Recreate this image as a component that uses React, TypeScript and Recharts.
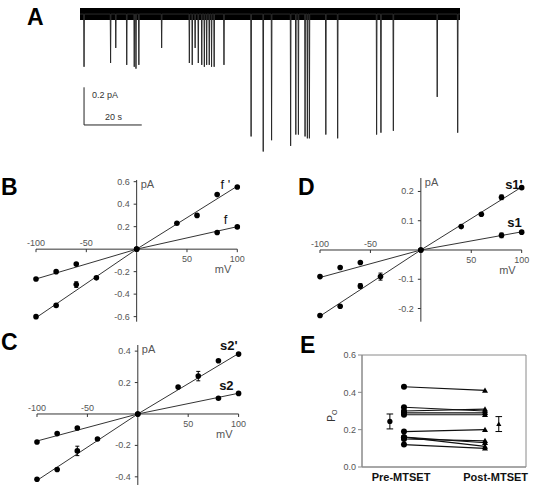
import React from 'react';
import {
  Area,
  ComposedChart,
  ErrorBar,
  Line,
  ReferenceArea,
  ReferenceDot,
  ReferenceLine,
  Scatter,
  XAxis,
  YAxis,
} from 'recharts';

const FONT = '"Liberation Sans", Arial, Helvetica, sans-serif';
const AXIS = '#333';
const TICK = '#555';
const FRAME = '#8a8a8a';

// A: single-channel record (s, pA)
const spikeTimes = [
  1.4, 10.6, 12.4, 16.2, 18.8, 19.4, 20.4, 28.3, 37.9, 38.9, 39.9, 41.0, 42.2, 43.1, 43.9, 44.8, 45.6,
  46.5, 49.9, 59.3, 63.5, 66.4, 73.0, 74.8, 75.7, 78.0, 78.8, 79.5, 85.2, 89.3, 102.8, 104.3, 108.6,
  123.8, 130.9,
];
const spikeAmps = [
  0.28, 0.26, 0.18, 0.27, 0.28, 0.29, 0.27, 0.18, 0.26, 0.27, 0.18, 0.26, 0.27, 0.28, 0.27, 0.27, 0.28,
  0.28, 0.27, 0.65, 0.73, 0.67, 0.7, 0.64, 0.64, 0.65, 0.66, 0.66, 0.64, 0.66, 0.64, 0.63, 0.62, 0.44,
  0.63,
];
const recordLength = 131.7;
const baselineNoise = 0.032;
const scaleBarCurrent = 0.2;
const scaleBarTime = 20;

// I-V panels (mV, pA)
const mvTicks = [-100, -50, 50, 100];
const fitMv = [-100, 0, 100];

const fPrimeMv = [-100, -80, -60, -40, 0, 40, 60, 80, 100];
const fPrimePa = [-0.6, -0.5, -0.315, -0.255, 0, 0.23, 0.3, 0.485, 0.553];
const fPrimeErr = [0, 0, 0.025, 0, 0, 0, 0, 0, 0];
const fPrimeFit = [-0.61, 0, 0.56];
const fMv = [-100, -80, -60, 0, 80, 100];
const fPa = [-0.265, -0.2, -0.133, 0, 0.148, 0.198];
const fFit = [-0.265, 0, 0.2];

const s1PrimeMv = [-100, -80, -60, -40, 0, 40, 60, 80, 100];
const s1PrimePa = [-0.224, -0.192, -0.123, -0.091, 0, 0.08, 0.122, 0.18, 0.213];
const s1PrimeErr = [0, 0, 0.008, 0.012, 0, 0, 0, 0.008, 0];
const s1PrimeFit = [-0.226, 0, 0.215];
const s1Mv = [-100, -80, -60, 0, 80, 100];
const s1Pa = [-0.091, -0.06, -0.043, 0, 0.05, 0.061];
const s1Err = [0, 0, 0, 0, 0.008, 0];
const s1Fit = [-0.094, 0, 0.062];

const s2PrimeMv = [-100, -80, -60, -40, 0, 40, 60, 80, 100];
const s2PrimePa = [-0.415, -0.353, -0.235, -0.159, 0, 0.171, 0.241, 0.339, 0.381];
const s2PrimeErr = [0, 0, 0.03, 0, 0, 0, 0.03, 0, 0];
const s2PrimeFit = [-0.423, 0, 0.385];
const s2Mv = [-100, -80, -60, 0, 80, 100];
const s2Pa = [-0.178, -0.125, -0.089, 0, 0.1, 0.131];
const s2Fit = [-0.172, 0, 0.132];

// E: open probability
const poCategories = ['Pre-MTSET', 'Post-MTSET'];
const prePo = [0.43, 0.32, 0.3, 0.29, 0.28, 0.19, 0.16, 0.16, 0.15, 0.12];
const postPo = [0.41, 0.3, 0.31, 0.29, 0.28, 0.2, 0.13, 0.11, 0.14, 0.1];
const poMeans = [0.244, 0.23];
const poErrs = [0.04, 0.04];
const poTicks = [0, 0.2, 0.4, 0.6];

type Pt = { x: number; y: number; err: number };
const pts = (xs: number[], ys: number[], errs?: number[]): Pt[] =>
  xs.map((x, i) => ({ x, y: ys[i], err: errs ? errs[i] : 0 }));

const dotShape = (p: any) => <circle cx={p.cx} cy={p.cy} r={2.8} fill="#000" />;

const xTick = (v: number) => (p: any) => (
  <g>
    <line x1={p.cx} y1={p.cy} x2={p.cx} y2={p.cy + 3} stroke={AXIS} />
    <text x={p.cx} y={v < 0 ? p.cy - 3 : p.cy + 13} textAnchor="middle" fontSize={9} fill={TICK} fontFamily={FONT}>
      {v}
    </text>
  </g>
);

const yTick = (v: number) => (p: any) => (
  <g>
    <line x1={p.cx - 3} y1={p.cy} x2={p.cx} y2={p.cy} stroke={AXIS} />
    <text x={p.cx - 7} y={p.cy + 3} textAnchor="end" fontSize={9} fill={TICK} fontFamily={FONT}>
      {v.toFixed(1)}
    </text>
  </g>
);

type Series = { pts: Pt[]; fit: Pt[]; tag: string; bold: boolean; dx: number; dy: number };

function IVPanel({
  left,
  top,
  width,
  height,
  yDomain,
  yTicks,
  series,
}: {
  left: number;
  top: number;
  width: number;
  height: number;
  yDomain: [number, number];
  yTicks: number[];
  series: Series[];
}) {
  const PAD = 14;
  return (
    <div style={{ position: 'absolute', left: left - PAD, top: top - PAD }}>
      <ComposedChart
        width={width + 2 * PAD}
        height={height + 2 * PAD}
        margin={{ top: PAD, right: PAD, bottom: PAD, left: PAD }}
      >
        <XAxis type="number" dataKey="x" domain={[-100, 100]} hide />
        <YAxis type="number" dataKey="y" domain={yDomain} hide />
        <ReferenceLine y={0} stroke={AXIS} />
        <ReferenceLine x={0} stroke={AXIS} />
        {mvTicks.map((v) => (
          <ReferenceDot key={`x${v}`} x={v} y={0} r={0} shape={xTick(v)} />
        ))}
        {yTicks.map((v) => (
          <ReferenceDot key={`y${v}`} x={0} y={v} r={0} shape={yTick(v)} />
        ))}
        <ReferenceDot
          x={0}
          y={yDomain[1]}
          r={0}
          shape={(p: any) => (
            <text x={p.cx + 4} y={p.cy + 8} fontSize={11} fill={TICK} fontFamily={FONT}>
              pA
            </text>
          )}
        />
        <ReferenceDot
          x={100}
          y={0}
          r={0}
          shape={(p: any) => (
            <text x={p.cx - 6} y={p.cy + 24} textAnchor="end" fontSize={11} fill={TICK} fontFamily={FONT}>
              mV
            </text>
          )}
        />
        {series.map((s, i) => (
          <Line
            key={`fit${i}`}
            data={s.fit}
            dataKey="y"
            stroke={AXIS}
            strokeWidth={1}
            dot={false}
            isAnimationActive={false}
          />
        ))}
        {series.map((s, i) => (
          <Scatter key={`pts${i}`} data={s.pts} dataKey="y" shape={dotShape} isAnimationActive={false}>
            <ErrorBar dataKey="err" direction="y" width={2} stroke="#000" strokeWidth={1} />
          </Scatter>
        ))}
        {series.map((s, i) => {
          const last = s.pts[s.pts.length - 1];
          return (
            <ReferenceDot
              key={`tag${i}`}
              x={last.x}
              y={last.y}
              r={0}
              shape={(p: any) => (
                <text
                  x={p.cx + s.dx}
                  y={p.cy + s.dy}
                  textAnchor="end"
                  fontSize={13}
                  fontWeight={s.bold ? 'bold' : 'normal'}
                  fill="#111"
                  fontFamily={FONT}
                >
                  {s.tag}
                </text>
              )}
            />
          );
        })}
      </ComposedChart>
    </div>
  );
}

function TracePanel() {
  const trace = [
    { t: 0, i: 0 },
    ...spikeTimes.flatMap((t, k) => [
      { t: t - 0.12, i: 0 },
      { t, i: -spikeAmps[k] },
      { t: t + 0.12, i: 0 },
    ]),
    { t: recordLength, i: 0 },
  ];
  const band = [
    { t: 0, band: [-baselineNoise, baselineNoise] },
    { t: recordLength, band: [-baselineNoise, baselineNoise] },
  ];
  const barT = 1.4;
  const barI = -0.589;
  return (
    <div style={{ position: 'absolute', left: 80, top: 2 }}>
      <ComposedChart width={380} height={158} margin={{ top: 0, right: 0, bottom: 0, left: 0 }}>
        <XAxis type="number" dataKey="t" domain={[0, recordLength]} hide />
        <YAxis type="number" domain={[-0.775, 0.064]} hide />
        <Area
          data={band}
          dataKey="band"
          type="linear"
          stroke="none"
          fill="#000"
          fillOpacity={1}
          isAnimationActive={false}
        />
        <Line data={trace} dataKey="i" type="linear" stroke="#2a2a2a" strokeWidth={1} dot={false} isAnimationActive={false} />
        <ReferenceLine
          segment={[
            { x: barT, y: barI + scaleBarCurrent },
            { x: barT, y: barI },
          ]}
          stroke="#222"
        />
        <ReferenceLine
          segment={[
            { x: barT, y: barI },
            { x: barT + scaleBarTime, y: barI },
          ]}
          stroke="#222"
        />
        <ReferenceDot
          x={barT}
          y={barI + scaleBarCurrent}
          r={0}
          shape={(p: any) => (
            <text x={p.cx + 8} y={p.cy + 11} fontSize={9} fill="#333" fontFamily={FONT}>
              {`${scaleBarCurrent} pA`}
            </text>
          )}
        />
        <ReferenceDot
          x={barT}
          y={barI}
          r={0}
          shape={(p: any) => (
            <text x={p.cx + 21} y={p.cy - 4.5} fontSize={9} fill="#333" fontFamily={FONT}>
              {`${scaleBarTime} s`}
            </text>
          )}
        />
      </ComposedChart>
    </div>
  );
}

function PoPanel() {
  const preX = 0.256;
  const postX = 0.75;
  const meanX = [0.17, 0.834];
  const labelX = [0.238, 0.815];
  const tri = (cx: number, cy: number, s: number) =>
    `${cx},${cy - s} ${cx - s},${cy + s * 0.75} ${cx + s},${cy + s * 0.75}`;
  const pairDot = (p: any) =>
    p.index === 0 ? (
      <circle key={p.key} cx={p.cx} cy={p.cy} r={3} fill="#000" />
    ) : (
      <polygon key={p.key} points={tri(p.cx, p.cy, 3)} fill="#000" />
    );
  return (
    <div style={{ position: 'absolute', left: 327, top: 345 }}>
      <ComposedChart width={205} height={151} margin={{ top: 10, right: 6, bottom: 4, left: 5 }}>
        <XAxis
          type="number"
          dataKey="x"
          domain={[0, 1]}
          ticks={labelX}
          tickFormatter={(v: number) => (v < 0.5 ? poCategories[0] : poCategories[1])}
          tickLine={false}
          axisLine={{ stroke: FRAME }}
          tickSize={5}
          tickMargin={1}
          height={25}
          tick={{ fontSize: 11, fontWeight: 'bold', fill: '#111', fontFamily: FONT }}
        />
        <YAxis
          type="number"
          dataKey="y"
          domain={[0, 0.6]}
          ticks={poTicks}
          tickFormatter={(v: number) => v.toFixed(1)}
          width={30}
          tickSize={4}
          axisLine={{ stroke: FRAME }}
          tickLine={{ stroke: FRAME }}
          tick={{ fontSize: 9, fill: TICK, fontFamily: FONT }}
        />
        <ReferenceArea x1={0} x2={1} y1={0} y2={0.6} fill="none" stroke={FRAME} fillOpacity={0} />
        {prePo.map((v, i) => (
          <Line
            key={`pair${i}`}
            data={[
              { x: preX, y: v },
              { x: postX, y: postPo[i] },
            ]}
            dataKey="y"
            stroke="#111"
            strokeWidth={1.2}
            dot={pairDot}
            isAnimationActive={false}
          />
        ))}
        <Scatter
          data={[{ x: meanX[0], y: poMeans[0], err: poErrs[0] }]}
          dataKey="y"
          shape={(p: any) => <circle cx={p.cx} cy={p.cy} r={2.6} fill="#000" />}
          isAnimationActive={false}
        >
          <ErrorBar dataKey="err" direction="y" width={3.3} stroke="#000" strokeWidth={1} />
        </Scatter>
        <Scatter
          data={[{ x: meanX[1], y: poMeans[1], err: poErrs[1] }]}
          dataKey="y"
          shape={(p: any) => <polygon points={tri(p.cx, p.cy, 2.6)} fill="#000" />}
          isAnimationActive={false}
        >
          <ErrorBar dataKey="err" direction="y" width={3.3} stroke="#000" strokeWidth={1} />
        </Scatter>
      </ComposedChart>
    </div>
  );
}

export default function App() {
  const letter = { fontSize: 23, fontWeight: 'bold' as const, fontFamily: FONT, fill: '#000' };
  return (
    <div style={{ position: 'absolute', left: 0, top: 0, width: 538, height: 496, background: '#fff', overflow: 'hidden' }}>
      <TracePanel />
      <IVPanel
        left={36}
        top={180}
        width={201.3}
        height={141.7}
        yDomain={[-0.645, 0.615]}
        yTicks={[-0.6, -0.4, -0.2, 0.2, 0.4, 0.6]}
        series={[
          { pts: pts(fPrimeMv, fPrimePa, fPrimeErr), fit: pts(fitMv, fPrimeFit), tag: "f '", bold: false, dx: -7, dy: 2 },
          { pts: pts(fMv, fPa), fit: pts(fitMv, fFit), tag: 'f', bold: false, dx: -10, dy: -3 },
        ]}
      />
      <IVPanel
        left={320}
        top={178}
        width={201.7}
        height={143.7}
        yDomain={[-0.245, 0.246]}
        yTicks={[-0.2, -0.1, 0.1, 0.2]}
        series={[
          { pts: pts(s1PrimeMv, s1PrimePa, s1PrimeErr), fit: pts(fitMv, s1PrimeFit), tag: "s1'", bold: true, dx: 1, dy: 1 },
          { pts: pts(s1Mv, s1Pa, s1Err), fit: pts(fitMv, s1Fit), tag: 's1', bold: true, dx: 0, dy: -5 },
        ]}
      />
      <IVPanel
        left={36.7}
        top={345}
        width={201.6}
        height={140}
        yDomain={[-0.452, 0.439]}
        yTicks={[-0.4, -0.2, 0.2, 0.4]}
        series={[
          { pts: pts(s2PrimeMv, s2PrimePa, s2PrimeErr), fit: pts(fitMv, s2PrimeFit), tag: "s2'", bold: true, dx: -1, dy: -4 },
          { pts: pts(s2Mv, s2Pa), fit: pts(fitMv, s2Fit), tag: 's2', bold: true, dx: -5, dy: -3.5 },
        ]}
      />
      <PoPanel />
      <svg width={538} height={496} style={{ position: 'absolute', left: 0, top: 0, pointerEvents: 'none' }}>
        <text x={27} y={25} {...letter}>A</text>
        <text x={1} y={195} {...letter}>B</text>
        <text x={298} y={195} {...letter}>D</text>
        <text x={1} y={350} {...letter}>C</text>
        <text x={300} y={353} {...letter}>E</text>
        <text transform="translate(335,421.7) rotate(-90)" fontSize={10} fill="#333" fontFamily={FONT}>
          P
          <tspan fontSize={7} dy={2}>
            O
          </tspan>
        </text>
      </svg>
    </div>
  );
}
